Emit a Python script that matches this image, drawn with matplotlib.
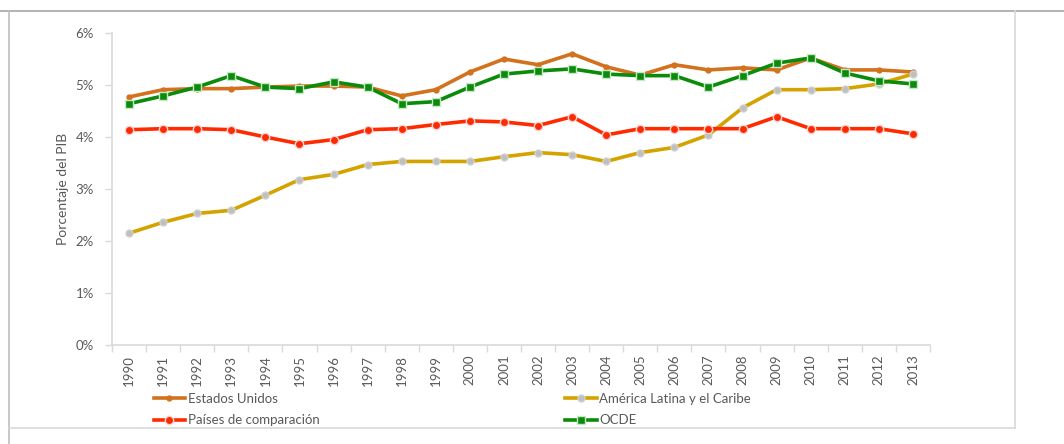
import numpy as np
import matplotlib
matplotlib.use('Agg')
import matplotlib.pyplot as plt
from matplotlib.lines import Line2D

years = [str(y) for y in range(1990, 2014)]

estados_unidos = [4.77, 4.91, 4.93, 4.93, 4.96, 4.98, 4.98, 4.96, 4.79, 4.91, 5.25, 5.50,
                  5.39, 5.60, 5.35, 5.19, 5.39, 5.29, 5.33, 5.29, 5.52, 5.29, 5.29, 5.25]
america_latina = [2.15, 2.36, 2.53, 2.59, 2.88, 3.18, 3.28, 3.47, 3.53, 3.53, 3.53, 3.62,
                  3.70, 3.66, 3.53, 3.70, 3.80, 4.04, 4.56, 4.91, 4.91, 4.93, 5.02, 5.21]
paises_comparacion = [4.14, 4.16, 4.16, 4.14, 4.00, 3.87, 3.95, 4.14, 4.16, 4.24, 4.31, 4.29,
                      4.22, 4.39, 4.04, 4.16, 4.16, 4.16, 4.16, 4.39, 4.16, 4.16, 4.16, 4.06]
ocde = [4.64, 4.79, 4.96, 5.18, 4.96, 4.93, 5.06, 4.96, 4.64, 4.68, 4.96, 5.21,
        5.27, 5.31, 5.21, 5.18, 5.18, 4.96, 5.18, 5.42, 5.52, 5.23, 5.08, 5.02]

plt.rcParams['font.family'] = ['Lato', 'DejaVu Sans']
txt = '#595959'

W, H = 1064, 444
fig = plt.figure(figsize=(W / 100, H / 100), dpi=100)
ax = fig.add_axes([112 / W, 1 - 345 / H, (930 - 112) / W, (345 - 33) / H])

x = np.arange(len(years))
ax.plot(x, estados_unidos, color='#D2711E', lw=2.6, marker='o', ms=3.5,
        mfc='#D2711E', mec='#D2711E', label='Estados Unidos', zorder=3)
ax.plot(x, america_latina, color='#D4A300', lw=2.6, marker='o', ms=5,
        mfc='#BFBFBF', mec='#D0D0D0', label='América Latina y el Caribe', zorder=4)
ax.plot(x, paises_comparacion, color='#FF2A00', lw=2.6, marker='o', ms=6,
        mfc='#FF2A00', mec='#F2D6D6', mew=1.0, label='Países de comparación', zorder=5)
ax.plot(x, ocde, color='#0A8C0A', lw=2.6, marker='s', ms=5.5,
        mfc='#0A8C0A', mec='#C8E6C8', mew=1.0, label='OCDE', zorder=6)

ax.set_xlim(-0.5, len(years) - 0.5)
ax.set_ylim(0, 6)
ax.set_yticks(np.arange(0, 7))
ax.set_yticklabels([f'{v}%' for v in range(7)])
ax.set_xticks(x)
ax.set_xticklabels(years, rotation=90)
ax.set_xticks(np.arange(-0.5, len(years)), minor=True)
ax.tick_params(axis='x', which='major', length=0, pad=7, labelsize=9.5, labelcolor=txt)
ax.tick_params(axis='x', which='minor', length=5, width=1, color='#D9D9D9')
ax.tick_params(axis='y', length=5, width=1, color='#D9D9D9', labelsize=9.5,
               labelcolor=txt, pad=8)
for s in ['top', 'right']:
    ax.spines[s].set_visible(False)
for s in ['left', 'bottom']:
    ax.spines[s].set_color('#D9D9D9')
    ax.spines[s].set_linewidth(1.2)
ax.set_ylabel('Porcentaje del PIB', fontsize=10, color=txt, labelpad=5)

h, l = ax.get_legend_handles_labels()
order = [0, 2, 1, 3]
leg = fig.legend([h[i] for i in order], [l[i] for i in order], ncol=2,
                 loc='upper left', bbox_to_anchor=(147 / W, 1 - 386 / H),
                 frameon=False, fontsize=9.5, handlelength=2.4, handletextpad=0.2,
                 columnspacing=18.6, labelspacing=0.75, borderpad=0)
for t in leg.get_texts():
    t.set_color(txt)

# outer frame lines
def fline(x0, y0, x1, y1, c, lw):
    fig.add_artist(Line2D([x0 / W, x1 / W], [1 - y0 / H, 1 - y1 / H],
                          color=c, lw=lw, transform=fig.transFigure))

fline(0, 11, W, 11, '#A6A6A6', 1.2)
fline(9, 11, 9, H, '#BFBFBF', 1.2)
fline(1015, 11, 1015, 428, '#D9D9D9', 1.2)
fline(9, 428, 1015, 428, '#D9D9D9', 1.2)

fig.savefig('out.png', dpi=100)
